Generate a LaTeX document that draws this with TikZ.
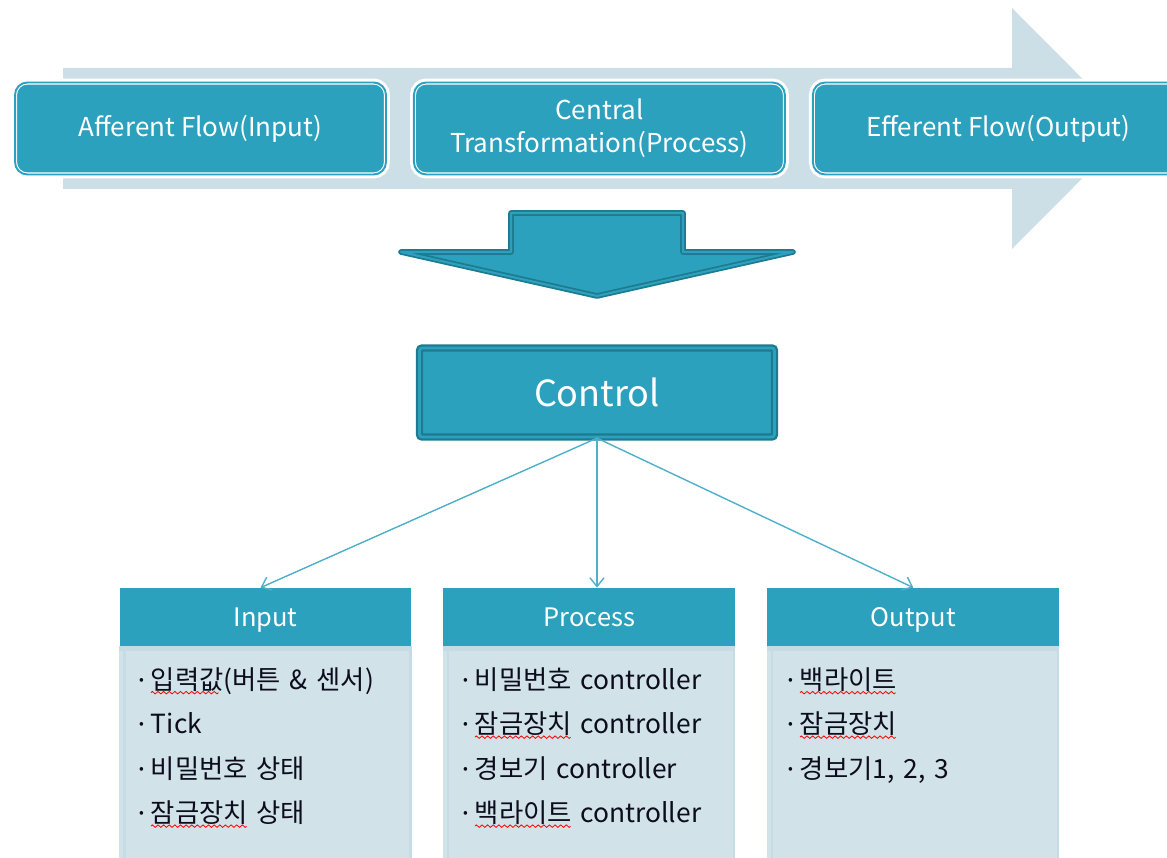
\documentclass[tikz,border=0pt]{standalone}
\usepackage{fontspec}
\setmainfont{Noto Sans CJK KR}
\usetikzlibrary{positioning, arrows.meta, shapes}

\definecolor{boxteal}{RGB}{44,161,190}
\definecolor{darkteal}{RGB}{30,122,143}
\definecolor{bandgray}{RGB}{205,223,230}
\definecolor{bodyfill}{RGB}{209,226,233}
\definecolor{bodyline}{RGB}{198,220,229}
\definecolor{linkblue}{RGB}{78,176,201}
\definecolor{listtext}{RGB}{12,12,28}

% red spell-check wave under a word
\newsavebox{\wavebox}
\sbox{\wavebox}{\tikz[x=1pt,y=1pt,line width=0.45pt]{\useasboundingbox (0,-1) rectangle (3.2,1);
		\draw[red] (0,0) sin (0.8,0.7) cos (1.6,0) sin (2.4,-0.7) cos (3.2,0);}}
\newsavebox{\wordbox}
\newcommand{\spellwave}[1]{\sbox{\wordbox}{#1}\rlap{\usebox{\wordbox}}%
	\raisebox{-3pt}[0pt][0pt]{\hbox to \wd\wordbox{\leaders\copy\wavebox\hfil}}}
\newcommand{\bul}{\makebox[6.8pt][l]{\raisebox{0.35ex}{\fontsize{8}{8}\selectfont\textbullet}}}

\tikzset{
	flowbox/.style={rectangle, rounded corners=7pt, fill=boxteal, text=white,
		minimum width=7.42cm, minimum height=1.84cm, align=center,
		font=\fontsize{14.8}{18.7}\selectfont,
		preaction={draw=white, line width=4.5pt},
		draw=white, line width=0.6pt, double=boxteal, double distance=1.1pt},
	ctrlbox/.style={rectangle, fill=boxteal, text=white, rounded corners=1.5pt,
		minimum width=7.1cm, minimum height=1.78cm,
		font=\fontsize{20.5}{24}\selectfont,
		draw=darkteal, line width=1.3pt, double=boxteal, double distance=1.6pt},
	headbox/.style={rectangle, fill=boxteal, text=white,
		minimum width=5.84cm, minimum height=1.16cm,
		text height=13pt, text depth=2pt,
		font=\fontsize{14.5}{17}\selectfont},
	item/.style={text width=5.6cm, align=left, inner sep=0pt,
		text height=11pt, text depth=4pt, text=listtext,
		font=\fontsize{15}{17}\selectfont},
	link/.style={linkblue, line width=0.8pt, -{Straight Barb[length=5pt,width=8pt]}}
}

\begin{document}
\begin{tikzpicture}[x=0.02cm,y=-0.02cm,node distance=2cm,on grid]
	
	\useasboundingbox (0,0) rectangle (1167,858);
	
	%Flow band
	\fill[bandgray] (63,68) -- (1012,68) -- (1012,8) -- (1132,128.5)
	-- (1012,249) -- (1012,189) -- (63,189) -- cycle;
	
	%Flow stages
	\node[flowbox] (aff) at (200.5,128.5) {Afferent Flow(Input)};
	\node[flowbox] (cen) [right=7.98cm of aff] {Central\\Transformation(Process)};
	\node[flowbox] (eff) [right=7.98cm of cen] {Efferent Flow(Output)};
	
	%Down arrow
	\filldraw[fill=boxteal, draw=darkteal, line width=1pt, line join=round,
	double=boxteal, double distance=1.2pt]
	(511,213) -- (683,213) -- (683,252) -- (793,252) -- (597,296)
	-- (401,252) -- (511,252) -- cycle;
	
	%Control
	\node[ctrlbox] (ctrl) at (597,392.5) {Control};
	
	%Module headers
	\node[headbox] (hin) at (265.5,617) {Input};
	\node[headbox] (hpr) [right=6.48cm of hin] {Process};
	\node[headbox] (hout) [right=6.48cm of hpr] {Output};
	
	%Module bodies
	\foreach \h in {hin,hpr,hout}{
		\fill[bodyfill] (\h.south west) rectangle ++(292,230);
		\draw[bodyline, line width=1.2pt] ([xshift=3pt]\h.south west) -- ++(0,230) ++(286,0) -- ++(0,-230);
		\fill[bodyline] (\h.south west) rectangle ++(292,5);
	}
	
	%Input items
	\node[item] (in1) at (279,683) {\bul\spellwave{입력값}(버튼 \& 센서)};
	\node[item] (in2) [below=0.89cm of in1] {\bul Tick};
	\node[item] (in3) [below=0.89cm of in2] {\bul 비밀번호 상태};
	\node[item] (in4) [below=0.89cm of in3] {\bul\spellwave{잠금장치} 상태};
	
	%Process items
	\node[item] (pr1) at (603,683) {\bul 비밀번호 controller};
	\node[item] (pr2) [below=0.89cm of pr1] {\bul\spellwave{잠금장치} controller};
	\node[item] (pr3) [below=0.89cm of pr2] {\bul 경보기 controller};
	\node[item] (pr4) [below=0.89cm of pr3] {\bul\spellwave{백라이트} controller};
	
	%Output items
	\node[item] (out1) at (928,683) {\bul\spellwave{백라이트}};
	\node[item] (out2) [below=0.89cm of out1] {\bul\spellwave{잠금장치}};
	\node[item] (out3) [below=0.89cm of out2] {\bul 경보기1, 2, 3};
	
	%Control links
	\path[link]
	(ctrl.south) edge ([xshift=-0.1cm]hin.north)
	edge (ctrl.south |- hpr.north)
	edge (hout.north);
	
\end{tikzpicture}
\end{document}
